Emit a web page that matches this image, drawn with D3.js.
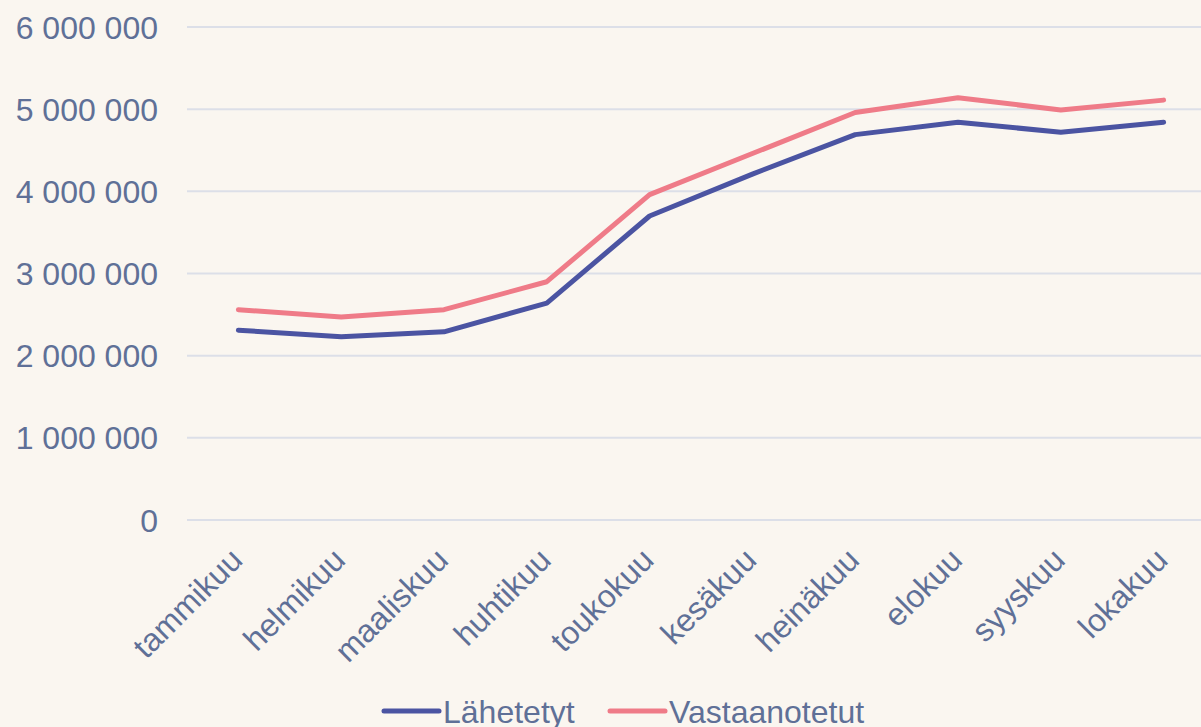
<!DOCTYPE html>
<html>
<head>
<meta charset="utf-8">
<script src="https://cdn.jsdelivr.net/npm/d3@7"></script>
<style>
  html, body { margin: 0; padding: 0; background: #faf6f0; }
  svg { display: block; }
  text { font-family: "Liberation Sans", Arial, sans-serif; fill: #5f7097; }
</style>
</head>
<body>
<div id="chart"></div>
<script>
// months
var months = ["tammikuu","helmikuu","maaliskuu","huhtikuu","toukokuu","kesäkuu","heinäkuu","elokuu","syyskuu","lokakuu"];
// sent
var lahetetyt = [2310000,2230000,2290000,2640000,3700000,4210000,4690000,4840000,4720000,4840000];
// received
var vastaanotetut = [2560000,2470000,2560000,2900000,3960000,4460000,4960000,5140000,4990000,5110000];
var yTicks = [0,1000000,2000000,3000000,4000000,5000000,6000000];
var seriesNames = ["Lähetetyt","Vastaanotetut"];
var seriesColors = ["#4b54a2","#ef7b88"];

var W = 1201, H = 727;
var svg = d3.select("#chart").append("svg")
    .attr("width", W)
    .attr("height", H);

var x = d3.scalePoint()
    .domain(months)
    .range([187, 1215])
    .padding(0.5);

var y = d3.scaleLinear()
    .domain([0, 6000000])
    .range([520, 27]);

var fmt = function(v){
	return d3.format(",")(v).replace(/,/g, " ");
};

// gridlines
svg.append("g").selectAll("line")
    .data(yTicks)
    .enter().append("line")
    .attr("x1", 187)
    .attr("x2", 1215)
    .attr("y1", function(d){ return y(d); })
    .attr("y2", function(d){ return y(d); })
    .style("stroke", "#dcdfe8")
    .style("stroke-width", 2);

// y labels
svg.append("g").selectAll("text")
    .data(yTicks)
    .enter().append("text")
    .attr("x", 158)
    .attr("y", function(d){ return y(d); })
    .attr("dy", "0.36em")
    .attr("text-anchor", "end")
    .style("font-size", "32px")
    .text(fmt);

// x labels
svg.append("g").selectAll("text")
    .data(months)
    .enter().append("text")
    .attr("transform", function(d){ return "translate(" + (x(d) + 6) + ",562) rotate(-45)"; })
    .attr("text-anchor", "end")
    .style("font-size", "32px")
    .text(function(d){ return d; });

// lines
var line = d3.line()
    .x(function(d, i){ return x(months[i]); })
    .y(function(d){ return y(d); });

[lahetetyt, vastaanotetut].forEach(function(s, k){
	svg.append("path")
	    .datum(s)
	    .attr("d", line)
	    .style("fill", "none")
	    .style("stroke", seriesColors[k])
	    .style("stroke-width", 5)
	    .style("stroke-linecap", "round")
	    .style("stroke-linejoin", "round");
});

// legend
var legendX = [384, 610];
var lg = svg.append("g").selectAll("g")
    .data(seriesNames)
    .enter().append("g")
    .attr("transform", function(d, i){ return "translate(" + legendX[i] + ",711)"; });
lg.append("line")
    .attr("x1", 0)
    .attr("x2", 55)
    .style("stroke", function(d, i){ return seriesColors[i]; })
    .style("stroke-width", 5)
    .style("stroke-linecap", "round");
lg.append("text")
    .attr("x", 59)
    .attr("dy", "0.36em")
    .style("font-size", "32px")
    .text(function(d){ return d; });
</script>
</body>
</html>
